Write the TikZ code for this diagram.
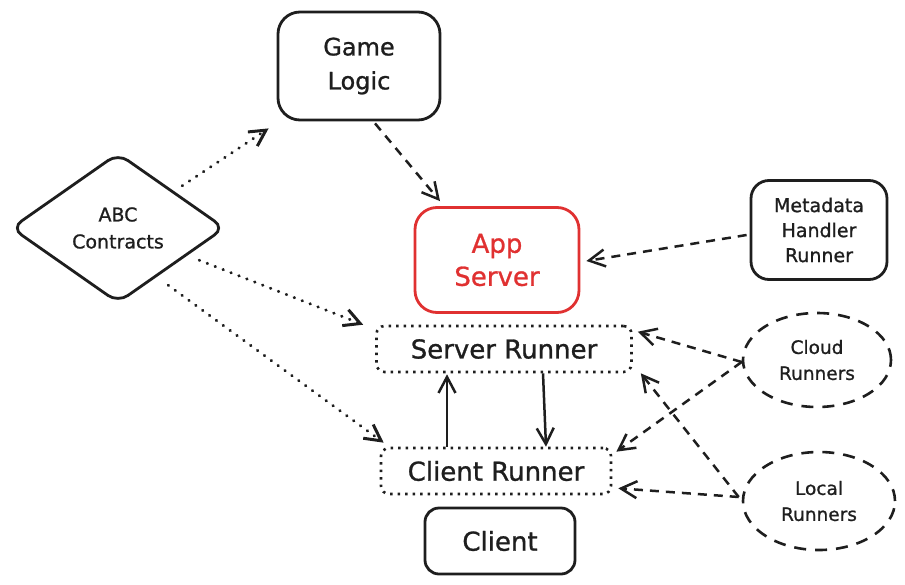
\documentclass[tikz,border=0pt]{standalone}
\usepackage{fontspec}
\setmainfont[FakeBold=1]{DejaVu Sans}
\usetikzlibrary{shapes.geometric,arrows.meta}
\tikzset{>={Straight Barb[length=16pt,width=17pt]}}
\definecolor{myblack}{HTML}{1E1E1E}
\definecolor{myred}{HTML}{E03131}
\tikzstyle{box}=[draw=myblack,line width=2.8pt,rounded corners=22pt,align=center,text=myblack,font=\fontsize{24}{34}\selectfont]
\tikzstyle{smalltext}=[font=\fontsize{19}{25}\selectfont]
\tikzstyle{runner}=[box,rounded corners=8pt,line width=2.6pt,dash pattern=on 2.5pt off 5pt,minimum height=46pt,font=\fontsize{26}{30}\selectfont]
\tikzstyle{pool}=[draw=myblack,ellipse,line width=2.6pt,dash pattern=on 12pt off 9pt,align=center,text=myblack,inner sep=0pt,font=\fontsize{18.5}{26}\selectfont]
\tikzstyle{contract}=[draw=myblack,diamond,line width=2.8pt,rounded corners=12pt,inner sep=0pt,align=center,text=myblack,font=\fontsize{19}{27}\selectfont]
\tikzstyle{flow}=[->,draw=myblack,line width=2.5pt,dash pattern=on 9pt off 7pt]
\tikzstyle{link}=[->,draw=myblack,line width=2.5pt]
\tikzstyle{uses}=[->,draw=myblack,line width=3pt,line cap=round,dash pattern=on 0.5pt off 8pt]

\begin{document}
\begin{tikzpicture}[x=1pt,y=-1pt]
  \useasboundingbox (0,0) rectangle (905,584);

  % BOXES
  \node[box,minimum width=162pt,minimum height=108pt] (game) at (359,66) {Game\\Logic};
  \node[box,draw=myred,text=myred,font=\fontsize{26}{33}\selectfont,minimum width=164pt,minimum height=105pt] (app) at (497,260) {App\\Server};
  \node[box,smalltext,rounded corners=18pt,minimum width=136pt,minimum height=99pt] (meta) at (819,230) {Metadata\\Handler\\Runner};
  \node[box,rounded corners=14pt,font=\fontsize{26}{30}\selectfont,minimum width=150pt,minimum height=66pt] (cl) at (500,541) {Client};

  % RUNNERS
  \node[runner,minimum width=255pt] (server) at (504,349) {Server Runner};
  \node[runner,minimum width=230pt] (client) at (496,471) {Client Runner};
  \node[pool,minimum width=148pt,minimum height=94pt] (cloud) at (817,360) {Cloud\\Runners};
  \node[pool,minimum width=152pt,minimum height=98pt] (local) at (819,501) {Local\\Runners};

  % CONTRACTS
  \node[contract,minimum width=214pt,minimum height=150pt] (abc) at (118,228) {ABC\\Contracts};

  % ARROWS
  \draw[flow] ([xshift=16pt,yshift=-2pt]game.south) -- ([xshift=-57pt,yshift=5pt]app.north);
  \draw[flow] ([xshift=-3pt,yshift=-5pt]meta.west) -- ([xshift=6pt,yshift=-1pt]app.east);
  \draw[link] ([xshift=-49pt]client.north) -- ([xshift=-57pt,yshift=-1pt]server.south);
  \draw[link] ([xshift=39pt]server.south) -- ([xshift=50pt]client.north);
  \draw[flow] ([yshift=-2pt]cloud.west) -- ([xshift=5pt,yshift=-7pt]server.north east);
  \draw[flow] ([yshift=-2pt]cloud.west) -- ([xshift=4pt,yshift=-5pt]client.north east);
  \draw[flow] ([xshift=-3pt,yshift=4pt]local.west) -- ([xshift=8pt]server.south east);
  \draw[flow] ([xshift=-3pt,yshift=4pt]local.west) -- ([xshift=6pt,yshift=7pt]client.south east);
  \draw[uses] ([xshift=10pt,yshift=4pt]abc.north east) -- ([xshift=-8pt,yshift=-7pt]game.south west);
  \draw[uses] ([xshift=27pt,yshift=6pt]abc.south east) -- ([xshift=-12pt]server.north west);
  \draw[uses] ([xshift=-4pt,yshift=-19pt]abc.south east) -- ([xshift=4pt,yshift=4pt]client.north west);

\end{tikzpicture}
\end{document}
